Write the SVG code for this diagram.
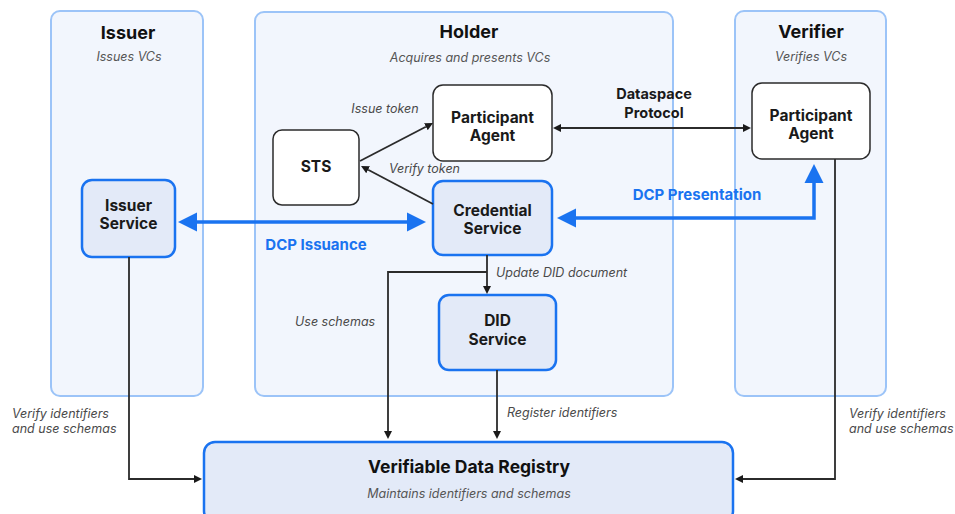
<svg xmlns="http://www.w3.org/2000/svg" width="955" height="514" viewBox="0 0 955 514">
  <style>
    .zone { fill: #f2f6fd; stroke: #9cc4f8; stroke-width: 2; }
    .plain { fill: #ffffff; stroke: #2b2b2b; stroke-width: 1.5; }
    .svc { fill: #e3eaf8; stroke: #1a73f0; stroke-width: 2.5; }
    text { font-family: Inter, "Noto Sans", "Liberation Sans", sans-serif; }
    .title { font-size: 18px; font-weight: 700; fill: #111; text-anchor: middle; }
    .sub { font-size: 12.5px; font-style: italic; fill: #555; text-anchor: middle; }
    .node { font-size: 15.5px; font-weight: 700; fill: #1a1a1a; text-anchor: middle; }
    .lbl { font-size: 12.5px; font-style: italic; fill: #4a4a4a; }
    .proto { font-size: 14.5px; font-weight: 700; fill: #1a1a1a; text-anchor: middle; }
    .dcp { font-size: 15px; font-weight: 700; fill: #1a73f0; }
    .wire { fill: none; stroke: #2b2b2b; stroke-width: 1.8; }
    .blue { fill: none; stroke: #1a73f0; stroke-width: 3.5; }
  </style>
  <defs>
    <marker id="ah" viewBox="0 0 10 10" refX="0" refY="5" markerWidth="8" markerHeight="10" markerUnits="userSpaceOnUse" orient="auto-start-reverse">
      <path d="M0,0 L10,5 L0,10 z" fill="#1a1a1a"/>
    </marker>
    <marker id="bh" viewBox="0 0 10 10" refX="0" refY="5" markerWidth="19" markerHeight="21" markerUnits="userSpaceOnUse" orient="auto-start-reverse">
      <path d="M0,0 L10,5 L0,10 z" fill="#1a73f0"/>
    </marker>
  </defs>

  <!-- Role containers -->
  <g id="issuer">
    <rect class="zone" x="51" y="11" width="152" height="385" rx="9"/>
    <text class="title" x="128" y="39">Issuer</text>
    <text class="sub" x="129" y="61">Issues VCs</text>
  </g>
  <g id="holder">
    <rect class="zone" x="255" y="12" width="418" height="384" rx="9"/>
    <text class="title" x="469" y="38">Holder</text>
    <text class="sub" x="470" y="62">Acquires and presents VCs</text>
  </g>
  <g id="verifier">
    <rect class="zone" x="735" y="11" width="151" height="385" rx="9"/>
    <text class="title" x="811" y="38">Verifier</text>
    <text class="sub" x="811" y="61">Verifies VCs</text>
  </g>

  <!-- Services and agents -->
  <g id="issuer-service">
    <rect class="svc" x="82" y="180" width="93" height="77" rx="10"/>
    <text class="node" x="128.5" y="211">Issuer</text>
    <text class="node" x="128.5" y="229">Service</text>
  </g>
  <g id="sts">
    <rect class="plain" x="273" y="130" width="86" height="75" rx="9"/>
    <text class="node" x="316" y="172">STS</text>
  </g>
  <g id="holder-agent">
    <rect class="plain" x="433" y="85" width="119" height="76" rx="10"/>
    <text class="node" x="492.5" y="123">Participant</text>
    <text class="node" x="492.5" y="141">Agent</text>
  </g>
  <g id="credential-service">
    <rect class="svc" x="433" y="181" width="119" height="74" rx="10"/>
    <text class="node" x="492.5" y="216">Credential</text>
    <text class="node" x="492.5" y="234">Service</text>
  </g>
  <g id="did-service">
    <rect class="svc" x="439" y="295" width="117" height="75" rx="10"/>
    <text class="node" x="497.5" y="326">DID</text>
    <text class="node" x="497.5" y="345">Service</text>
  </g>
  <g id="verifier-agent">
    <rect class="plain" x="752" y="83" width="118" height="76" rx="10"/>
    <text class="node" x="811" y="121">Participant</text>
    <text class="node" x="811" y="139">Agent</text>
  </g>
  <g id="registry">
    <rect class="svc" x="204" y="442" width="529" height="80" rx="11"/>
    <text class="title" x="469" y="473" style="font-size:17.5px">Verifiable Data Registry</text>
    <text class="sub" x="469" y="498">Maintains identifiers and schemas</text>
  </g>

  <!-- Connectors -->
  <g id="connectors">
    <path class="wire" d="M129,257 V479 H194" marker-end="url(#ah)"/>
    <path class="wire" d="M835,159 V479 H743" marker-end="url(#ah)"/>
    <path class="wire" d="M487,255 V286" marker-end="url(#ah)"/>
    <path class="wire" d="M487,272 H388 V431" marker-end="url(#ah)"/>
    <path class="wire" d="M497,370 V431" marker-end="url(#ah)"/>
    <path class="wire" d="M360,161 L425.9,126.7" marker-end="url(#ah)"/>
    <path class="wire" d="M433,204 L368.1,169.7" marker-end="url(#ah)"/>
    <path class="wire" d="M561,128 H743" marker-start="url(#ah)" marker-end="url(#ah)"/>
    <path class="blue" d="M197,222 H407" marker-start="url(#bh)" marker-end="url(#bh)"/>
    <path class="blue" d="M576,218 H814 V183" marker-start="url(#bh)" marker-end="url(#bh)"/>

    <text class="lbl" x="385" y="113" text-anchor="middle">Issue token</text>
    <text class="lbl" x="389" y="173">Verify token</text>
    <text class="lbl" x="496" y="277">Update DID document</text>
    <text class="lbl" x="295" y="326">Use schemas</text>
    <text class="lbl" x="507" y="417">Register identifiers</text>
    <text class="lbl" x="12" y="418">Verify identifiers</text>
    <text class="lbl" x="12" y="433">and use schemas</text>
    <text class="lbl" x="849" y="418">Verify identifiers</text>
    <text class="lbl" x="849" y="433">and use schemas</text>
    <text class="proto" x="654" y="99">Dataspace</text>
    <text class="proto" x="654" y="118">Protocol</text>
    <text class="dcp" x="316" y="250" text-anchor="middle">DCP Issuance</text>
    <text class="dcp" x="697" y="200" text-anchor="middle">DCP Presentation</text>
  </g>
</svg>
